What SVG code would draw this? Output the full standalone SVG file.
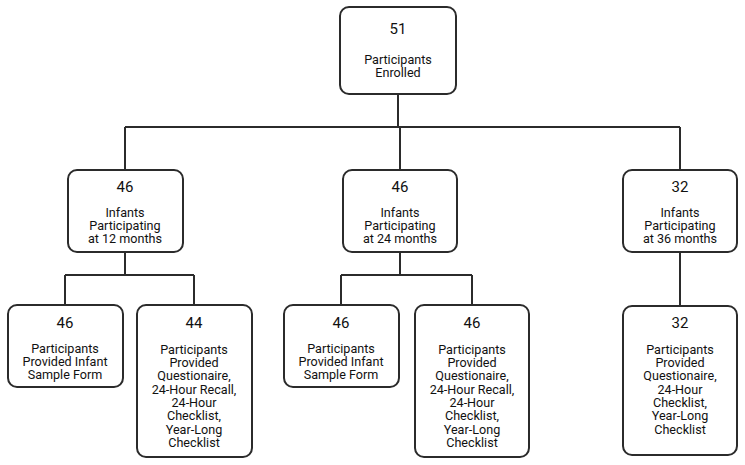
<svg xmlns="http://www.w3.org/2000/svg" width="745" height="465" viewBox="0 0 745 465">
<style>
.box{fill:#fff;stroke:#2b2b2b;stroke-width:2}
.ln{fill:none;stroke:#2b2b2b;stroke-width:2}
text{font-family:Roboto,"Liberation Sans",sans-serif;fill:#111;text-anchor:middle}
.n{font-size:15px}
.t{font-size:12.6px}
</style>
<rect width="745" height="465" fill="#fff"/>
<g id="connectors">
<path class="ln" d="M398 94V127M125 127H680M125 127V170M400 127V170M680 127V170"/>
<path class="ln" d="M125 252V275M65 275H194M65 275V305M194 275V305"/>
<path class="ln" d="M400 252V275M341 275H472M341 275V305M472 275V305"/>
<path class="ln" d="M680 252V306"/>
</g>
<g id="n0"><rect class="box" x="340" y="7" width="116" height="87" rx="9"/>
<text class="n" x="398" y="34">51</text>
<text class="t" x="398" y="63.5">Participants</text><text class="t" x="398" y="76.5">Enrolled</text></g>
<g id="n12"><rect class="box" x="68" y="170" width="115" height="82" rx="9"/>
<text class="n" x="125" y="192">46</text>
<text class="t" x="125" y="217">Infants</text><text class="t" x="125" y="230">Participating</text><text class="t" x="125" y="243">at 12 months</text></g>
<g id="n24"><rect class="box" x="343" y="170" width="114" height="82" rx="9"/>
<text class="n" x="400" y="192">46</text>
<text class="t" x="400" y="217">Infants</text><text class="t" x="400" y="230">Participating</text><text class="t" x="400" y="243">at 24 months</text></g>
<g id="n36"><rect class="box" x="623" y="170" width="114" height="82" rx="9"/>
<text class="n" x="680" y="192">32</text>
<text class="t" x="680" y="217">Infants</text><text class="t" x="680" y="230">Participating</text><text class="t" x="680" y="243">at 36 months</text></g>
<g id="b1"><rect class="box" x="8" y="305" width="115" height="82" rx="9"/>
<text class="n" x="65" y="328">46</text>
<text class="t" x="65" y="353">Participants</text><text class="t" x="65" y="366">Provided Infant</text><text class="t" x="65" y="379">Sample Form</text></g>
<g id="b2"><rect class="box" x="137" y="305" width="115" height="152" rx="9"/>
<text class="n" x="194" y="328">44</text>
<text class="t" x="194" y="354">Participants</text><text class="t" x="194" y="367">Provided</text><text class="t" x="194" y="380">Questionaire,</text><text class="t" x="194" y="394">24-Hour Recall,</text><text class="t" x="194" y="407">24-Hour</text><text class="t" x="194" y="420">Checklist,</text><text class="t" x="194" y="434">Year-Long</text><text class="t" x="194" y="447">Checklist</text></g>
<g id="b3"><rect class="box" x="284" y="305" width="115" height="82" rx="9"/>
<text class="n" x="341" y="328">46</text>
<text class="t" x="341" y="353">Participants</text><text class="t" x="341" y="366">Provided Infant</text><text class="t" x="341" y="379">Sample Form</text></g>
<g id="b4"><rect class="box" x="415" y="305" width="114" height="152" rx="9"/>
<text class="n" x="472" y="328">46</text>
<text class="t" x="472" y="354">Participants</text><text class="t" x="472" y="367">Provided</text><text class="t" x="472" y="380">Questionaire,</text><text class="t" x="472" y="394">24-Hour Recall,</text><text class="t" x="472" y="407">24-Hour</text><text class="t" x="472" y="420">Checklist,</text><text class="t" x="472" y="434">Year-Long</text><text class="t" x="472" y="447">Checklist</text></g>
<g id="b5"><rect class="box" x="623" y="306" width="114" height="149" rx="9"/>
<text class="n" x="680" y="328">32</text>
<text class="t" x="680" y="354">Participants</text><text class="t" x="680" y="367">Provided</text><text class="t" x="680" y="380">Questionaire,</text><text class="t" x="680" y="394">24-Hour</text><text class="t" x="680" y="407">Checklist,</text><text class="t" x="680" y="420">Year-Long</text><text class="t" x="680" y="434">Checklist</text></g>
</svg>
